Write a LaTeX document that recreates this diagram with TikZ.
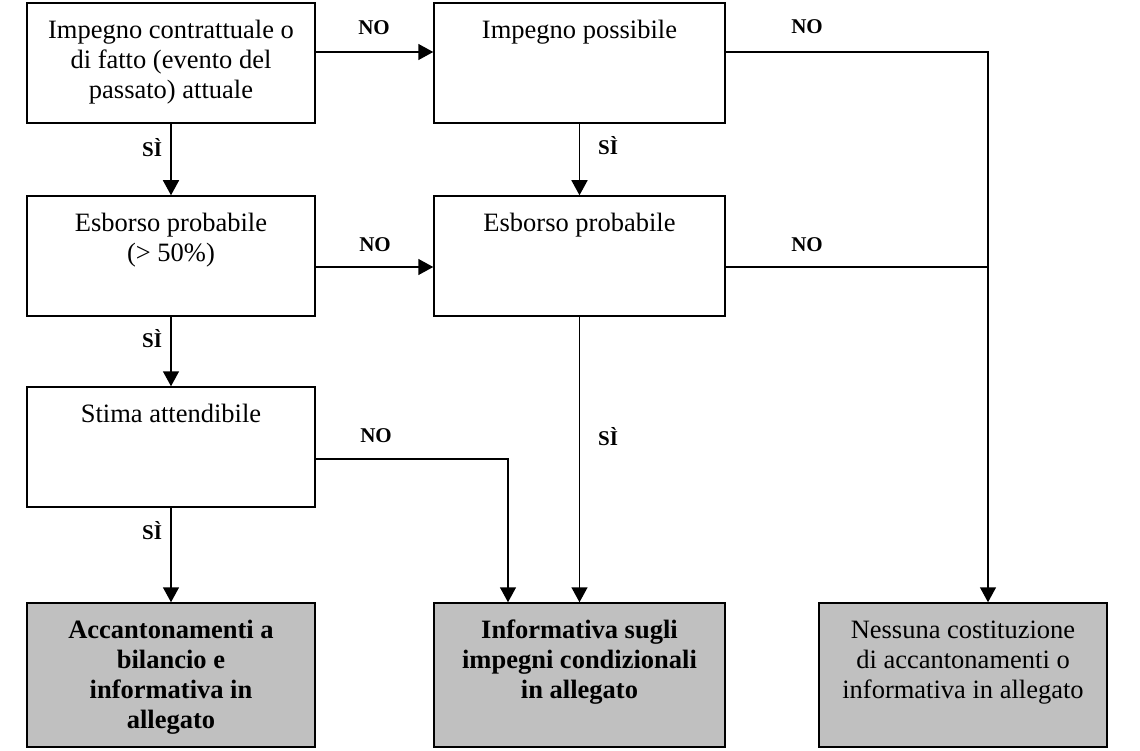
\documentclass[tikz,border=0pt]{standalone}
\usepackage{fontspec}
\setmainfont{Liberation Serif}
\usetikzlibrary{arrows.meta}
\definecolor{silverfill}{RGB}{192,192,192}
\begin{document}
\begin{tikzpicture}[x=1pt,y=-1pt,
  box/.style={draw, line width=1.5pt, minimum height=120pt, inner sep=0pt},
  endbox/.style={box, fill=silverfill, minimum height=144pt},
  txt/.style={anchor=north, inner sep=0pt, align=center, font=\fontsize{26.5}{30}\selectfont},
  btxt/.style={txt, font=\fontsize{26.5}{30}\selectfont\bfseries},
  lab/.style={inner sep=0pt, font=\fontsize{21}{24}\selectfont\bfseries},
  conn/.style={line width=1.5pt},
  arr/.style={conn, -{Triangle[length=15pt,width=16pt]}}
]
\useasboundingbox (0,0) rectangle (1140,751);
% boxes
\node[box, minimum width=288pt] (b1) at (171,63) {};
\node[box, minimum width=291pt] (b2) at (579.5,63) {};
\node[box, minimum width=288pt] (b3) at (171,256) {};
\node[box, minimum width=291pt] (b4) at (579.5,256) {};
\node[box, minimum width=288pt] (b5) at (171,447) {};
\node[endbox, minimum width=288pt] (b6) at (171,675) {};
\node[endbox, minimum width=291pt] (b7) at (579.5,675) {};
\node[endbox, minimum width=288pt] (b8) at (963,675) {};
% texts
\node[txt] (t1) at ([yshift=-15pt]b1.north) {\strut Impegno contrattuale o\\di fatto (evento del\\passato) attuale};
\node[txt] (t2) at ([yshift=-15pt]b2.north) {\strut Impegno possibile};
\node[txt] (t3) at ([yshift=-15pt]b3.north) {\strut Esborso probabile\\(> 50\%)};
\node[txt] (t4) at ([yshift=-15pt]b4.north) {\strut Esborso probabile};
\node[txt] (t5) at ([yshift=-15pt]b5.north) {\strut Stima attendibile};
\node[btxt] (t6) at ([yshift=-15pt]b6.north) {\strut Accantonamenti a\\bilancio e\\informativa in\\allegato};
\node[btxt] (t7) at ([yshift=-15pt]b7.north) {\strut Informativa sugli\\impegni condizionali\\in allegato};
\node[txt] (t8) at ([yshift=-15pt]b8.north) {\strut Nessuna costituzione\\di accantonamenti o\\informativa in allegato};
% helper coordinates
\coordinate (r1) at (0,52);
\coordinate (r2) at (0,267);
\coordinate (r3) at (0,459);
\coordinate (jx) at (988,0);
\coordinate (nx) at (508,0);
% connectors
\draw[arr] (b1.east |- r1) -- (b2.west |- r1);
\draw[arr] (b1) -- (b3);
\draw[arr] (b2) -- (b4);
\draw[arr] (b2.east |- r1) -- (jx |- r1) -- (jx |- b8.north);
\draw[conn] (b4.east |- r2) -- (jx |- r2);
\draw[arr] (b3.east |- r2) -- (b4.west |- r2);
\draw[arr] (b3) -- (b5);
\draw[arr] (b4) -- (b7);
\draw[arr] (b5.east |- r3) -- (nx |- r3) -- (nx |- b7.north);
\draw[arr] (b5) -- (b6);
% labels
\node[lab] (l1) at (374,28) {NO};
\node[lab] (l2) at (807,27) {NO};
\node[lab] (l3) at (152,148) {SÌ};
\node[lab] (l4) at (608,146) {SÌ};
\node[lab] (l5) at (375,245) {NO};
\node[lab] (l6) at (807,245) {NO};
\node[lab] (l7) at (152,339) {SÌ};
\node[lab] (l8) at (376,436) {NO};
\node[lab] (l9) at (608,437) {SÌ};
\node[lab] (l10) at (152,531) {SÌ};
\end{tikzpicture}
\end{document}
